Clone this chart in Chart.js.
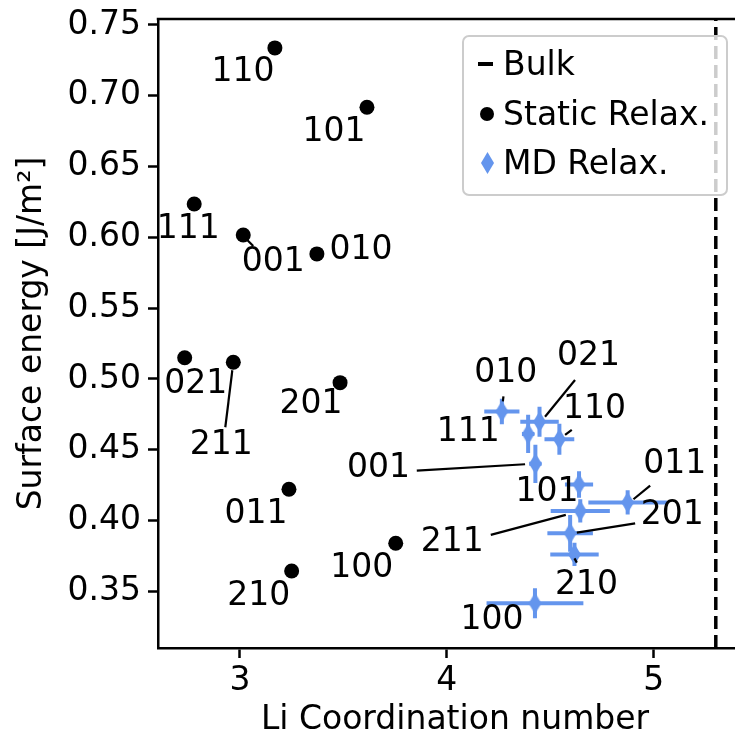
<!DOCTYPE html>
<html>
<head>
<meta charset="utf-8">
<script src="https://cdn.jsdelivr.net/npm/chart.js@4/dist/chart.umd.min.js"></script>
<style>
  html, body { margin: 0; padding: 0; background: #fff; overflow: hidden; }
  #wrap { width: 735px; height: 741px; overflow: hidden; }
</style>
</head>
<body>
<div id="wrap"><canvas id="chart" width="752" height="741"></canvas></div>
<script>
// Static relaxation results (facet, Li coordination, surface energy)
const staticLabels = ["110", "101", "111", "001", "010", "021", "211", "201", "011", "100", "210"]
const staticCN = [3.169, 3.614, 2.779, 3.016, 3.372, 2.733, 2.968, 3.484, 3.237, 3.753, 3.250]
const staticEnergy = [0.7338, 0.6919, 0.6236, 0.6017, 0.5883, 0.5150, 0.5118, 0.4974, 0.4221, 0.3840, 0.3644]

// MD relaxation results, with spread in both directions
const mdLabels = ["010", "021", "111", "110", "001", "101", "011", "211", "201", "210", "100"]
const mdCN = [4.266, 4.448, 4.393, 4.544, 4.428, 4.639, 4.874, 4.645, 4.596, 4.617, 4.426]
const mdEnergy = [0.4771, 0.4698, 0.4612, 0.4574, 0.4401, 0.4255, 0.4128, 0.4068, 0.3910, 0.3761, 0.3416]
const mdCNErr = [0.085, 0.093, 0.030, 0.072, 0.030, 0.068, 0.190, 0.143, 0.110, 0.117, 0.234]
const mdEnergyErr = [0.0090, 0.0106, 0.0135, 0.0110, 0.0135, 0.0094, 0.0086, 0.0082, 0.0130, 0.0082, 0.0106]

// Bulk coordination number
const bulkCN = 5.3

const xTicks = [3, 4, 5]
const yTicks = [0.35, 0.40, 0.45, 0.50, 0.55, 0.60, 0.65, 0.70, 0.75]

const FONT = "'DejaVu Sans', sans-serif"
const FS = 33
const BLUE = "#6495ED"

// label placement, pixel offsets from each marker: [dx, dy]
const staticLabelPos = [[-32, 25], [-33, 25], [-6, 25], [30, 27], [44, -3], [11, 27], [-12, 83], [-29, 22], [-33, 25], [-34, 25], [-33, 25]]
const mdLabelPos = [[4, -38], [49, -65], [-60, -1], [35, -30], [-157, 5], [-32, 8], [47, -38], [-128, 31], [102, -18], [12, 31], [-43, 17]]

// connector lines [x1, y1, x2, y2] relative to marker, null where none
const staticLeaders = [null, null, null, [2, 3, 10, 11], null, null, [-8, 65, -1, 8], null, null, null, null]
const mdLeaders = [[1.6, -15, 1, -10], [35.5, -41.7, 5.5, -5], null, [12.4, -9.3, 5.7, -4.3], [-118.6, 6.9, -10.3, 0.5], null,
  [22.5, -16.8, 5.8, -3.2], [-89.5, 24, -14.5, 4], [65, -10, 6.7, -0.6], [2.4, 8.2, 0, 4], null]

function thinDiamond(w, h, color) {
  const c = document.createElement("canvas")
  c.width = w
  c.height = h
  const g = c.getContext("2d")
  g.fillStyle = color
  g.beginPath()
  g.moveTo(w / 2, 0)
  g.lineTo(w, h / 2)
  g.lineTo(w / 2, h)
  g.lineTo(0, h / 2)
  g.closePath()
  g.fill()
  return c
}

const diamond = thinDiamond(13, 21, BLUE)

const bulkLine = {
  id: "bulkLine",
  beforeDatasetsDraw(chart) {
    const { ctx, chartArea, scales } = chart
    const x = scales.x.getPixelForValue(bulkCN)
    ctx.save()
    ctx.strokeStyle = "#000"
    ctx.lineWidth = 3.5
    ctx.setLineDash([13, 6])
    ctx.beginPath()
    ctx.moveTo(x, chartArea.bottom)
    ctx.lineTo(x, chartArea.top)
    ctx.stroke()
    ctx.restore()
  }
}

const errorBars = {
  id: "errorBars",
  beforeDatasetsDraw(chart) {
    const { ctx, scales } = chart
    ctx.save()
    ctx.strokeStyle = BLUE
    ctx.lineWidth = 4
    mdCN.forEach((cn, i) => {
      const e = mdEnergy[i]
      const y = scales.y.getPixelForValue(e)
      const x = scales.x.getPixelForValue(cn)
      ctx.beginPath()
      ctx.moveTo(scales.x.getPixelForValue(cn - mdCNErr[i]), y)
      ctx.lineTo(scales.x.getPixelForValue(cn + mdCNErr[i]), y)
      ctx.moveTo(x, scales.y.getPixelForValue(e - mdEnergyErr[i]))
      ctx.lineTo(x, scales.y.getPixelForValue(e + mdEnergyErr[i]))
      ctx.stroke()
    })
    ctx.restore()
  }
}

function drawLeaders(ctx, scales, xs, ys, leaders) {
  xs.forEach((v, i) => {
    const l = leaders[i]
    if (!l) return
    const px = scales.x.getPixelForValue(v)
    const py = scales.y.getPixelForValue(ys[i])
    ctx.beginPath()
    ctx.moveTo(px + l[0], py + l[1])
    ctx.lineTo(px + l[2], py + l[3])
    ctx.stroke()
  })
}

function drawLabels(ctx, scales, xs, ys, labels, pos) {
  xs.forEach((v, i) => {
    const px = scales.x.getPixelForValue(v)
    const py = scales.y.getPixelForValue(ys[i])
    ctx.fillText(labels[i], px + pos[i][0], py + pos[i][1])
  })
}

const annotations = {
  id: "annotations",
  afterDatasetsDraw(chart) {
    const { ctx, scales, chartArea } = chart
    ctx.save()
    // top spine
    ctx.strokeStyle = "#000"
    ctx.lineWidth = 2.5
    ctx.beginPath()
    ctx.moveTo(chartArea.left - 1.25, chartArea.top)
    ctx.lineTo(chartArea.right, chartArea.top)
    ctx.stroke()

    ctx.lineWidth = 2.2
    drawLeaders(ctx, scales, staticCN, staticEnergy, staticLeaders)
    drawLeaders(ctx, scales, mdCN, mdEnergy, mdLeaders)

    ctx.fillStyle = "#000"
    ctx.font = FS + "px " + FONT
    ctx.textAlign = "center"
    ctx.textBaseline = "middle"
    drawLabels(ctx, scales, staticCN, staticEnergy, staticLabels, staticLabelPos)
    drawLabels(ctx, scales, mdCN, mdEnergy, mdLabels, mdLabelPos)
    ctx.restore()
  }
}

const legendBox = {
  id: "legendBox",
  afterDraw(chart) {
    const ctx = chart.ctx
    const x0 = 463, y0 = 36, w = 264, h = 159, r = 6
    ctx.save()
    ctx.beginPath()
    ctx.roundRect(x0, y0, w, h, r)
    ctx.fillStyle = "rgba(255,255,255,0.8)"
    ctx.fill()
    ctx.strokeStyle = "#cccccc"
    ctx.lineWidth = 2
    ctx.stroke()

    const rows = [64, 114, 163]
    // Bulk handle
    ctx.fillStyle = "#000"
    ctx.fillRect(478, rows[0] - 2, 15, 4)
    // Static handle
    ctx.beginPath()
    ctx.arc(487, rows[1], 7, 0, Math.PI * 2)
    ctx.fill()
    // MD handle
    ctx.drawImage(thinDiamond(13, 22, BLUE), 481, rows[2] - 11)

    ctx.font = FS + "px " + FONT
    ctx.textAlign = "left"
    ctx.textBaseline = "middle"
    ctx.fillStyle = "#000"
    ;["Bulk", "Static Relax.", "MD Relax."].forEach((t, i) => ctx.fillText(t, 503, rows[i] + 2))
    ctx.restore()
  }
}

function noPad(s) {
  s.paddingTop = 0
  s.paddingBottom = 0
  s.paddingLeft = 0
  s.paddingRight = 0
}

new Chart(document.getElementById("chart"), {
  type: "scatter",
  data: {
    datasets: [
      {
        label: "Static Relax.",
        data: staticCN.map((x, i) => ({ x, y: staticEnergy[i] })),
        pointStyle: "circle",
        pointRadius: 7.5,
        pointBackgroundColor: "#000",
        pointBorderWidth: 0
      },
      {
        label: "MD Relax.",
        data: mdCN.map((x, i) => ({ x, y: mdEnergy[i] })),
        pointStyle: diamond,
        pointRadius: 10
      }
    ]
  },
  options: {
    responsive: false,
    animation: false,
    devicePixelRatio: 1,
    layout: { autoPadding: false, padding: { top: 19, right: 0, bottom: 0, left: 0 } },
    plugins: {
      legend: { display: false },
      tooltip: { enabled: false }
    },
    scales: {
      x: {
        type: "linear",
        min: 2.604,
        max: 5.475,
        afterBuildTicks: (s) => { s.ticks = xTicks.map((v) => ({ value: v })) },
        afterFit: (s) => { s.height = 93; noPad(s) },
        ticks: { color: "#000", font: { family: FONT, size: FS }, padding: 4, callback: (v) => String(v) },
        grid: { drawOnChartArea: false, drawTicks: true, tickLength: 10, tickWidth: 2.5, tickColor: "#000" },
        border: { display: true, color: "#000", width: 2.5 },
        title: { display: true, text: "Li Coordination number", color: "#000", font: { family: FONT, size: FS }, padding: { top: 0, bottom: 1 } }
      },
      y: {
        type: "linear",
        min: 0.310,
        max: 0.7542,
        afterBuildTicks: (s) => { s.ticks = yTicks.map((v) => ({ value: v })) },
        afterFit: (s) => { s.width = 158; noPad(s) },
        ticks: { color: "#000", font: { family: FONT, size: FS }, padding: 7, callback: (v) => v.toFixed(2) },
        grid: { drawOnChartArea: false, drawTicks: true, tickLength: 10, tickWidth: 2.5, tickColor: "#000" },
        border: { display: true, color: "#000", width: 2.5 },
        title: { display: true, text: "Surface energy [J/m²]", color: "#000", font: { family: FONT, size: FS }, padding: { top: 13, bottom: 0 } }
      }
    }
  },
  plugins: [bulkLine, errorBars, annotations, legendBox]
})
</script>
</body>
</html>
